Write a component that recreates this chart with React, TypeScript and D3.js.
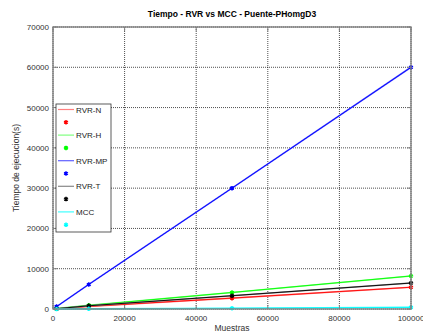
import React from "react";
import * as d3 from "d3";

// Sample sizes and execution times (s) per method
const muestras = [1000, 10000, 50000, 100000];
const rvrN = [60, 650, 2700, 5400];
const rvrH = [90, 900, 4100, 8200];
const rvrMP = [600, 6100, 30000, 60000];
const rvrT = [70, 800, 3300, 6450];
const mcc = [5, 40, 170, 400];

const xTicks = [0, 20000, 40000, 60000, 80000, 100000];
const yTicks = [0, 10000, 20000, 30000, 40000, 50000, 60000, 70000];

const series = [
  { name: "RVR-N", values: rvrN, color: "#ff0000", light: "#ff8080" },
  { name: "RVR-H", values: rvrH, color: "#00ff00", light: "#80ff80" },
  { name: "RVR-MP", values: rvrMP, color: "#0000ff", light: "#6060ff" },
  { name: "RVR-T", values: rvrT, color: "#000000", light: "#888888" },
  { name: "MCC", values: mcc, color: "#00ffff", light: "#40ffff" },
];

const W = 423;
const H = 336;
const L = 53;
const R = 411;
const T = 27;
const B = 309;
const font = "Liberation Sans, Arial, sans-serif";

export default function App() {
  const x = d3.scaleLinear().domain([0, 100000]).range([L, R]);
  const y = d3.scaleLinear().domain([0, 70000]).range([B, T]);
  const line = d3
    .line<number>()
    .x((_, i) => x(muestras[i]))
    .y((v) => y(v));
  const star = d3.symbol(d3.symbolAsterisk, 14);

  const legX = 56;
  const legY = 104;
  const step = 12.8;

  return (
    <svg
      width={W}
      height={H}
      style={{ position: "absolute", left: 0, top: 0, background: "#fff" }}
      fontFamily={font}
    >
      <rect x={0} y={0} width={W} height={H} fill="#fff" />
      {/* grid */}
      {xTicks.map((t) => (
        <line key={"gx" + t} x1={x(t)} x2={x(t)} y1={T} y2={B} stroke="#000" strokeWidth={0.7} strokeDasharray="1,1" />
      ))}
      {yTicks.map((t) => (
        <line key={"gy" + t} x1={L} x2={R} y1={y(t)} y2={y(t)} stroke="#000" strokeWidth={0.7} strokeDasharray="1,1" />
      ))}
      {/* series */}
      {series.map((s) => (
        <g key={s.name}>
          <path d={line(s.values) || ""} fill="none" stroke={s.light} strokeWidth={1.6} />
          <path d={line(s.values) || ""} fill="none" stroke={s.color} strokeWidth={0.9} />
          {s.values.map((v, i) => (
            <path
              key={i}
              d={star() || ""}
              transform={`translate(${x(muestras[i])},${y(v)})`}
              fill="none"
              stroke={s.color}
              strokeWidth={1.5}
            />
          ))}
        </g>
      ))}
      {/* axes box */}
      <rect x={L} y={T} width={R - L} height={B - T} fill="none" stroke="#808080" strokeWidth={1.4} />
      {xTicks.map((t) => (
        <g key={"tx" + t}>
          <line x1={x(t)} x2={x(t)} y1={B} y2={B - 4} stroke="#808080" />
          <line x1={x(t)} x2={x(t)} y1={T} y2={T + 4} stroke="#808080" />
          <text x={x(t)} y={B + 12} textAnchor="middle" fontSize={8} fill="#333">
            {t}
          </text>
        </g>
      ))}
      {yTicks.map((t) => (
        <g key={"ty" + t}>
          <line x1={L} x2={L + 4} y1={y(t)} y2={y(t)} stroke="#808080" />
          <line x1={R} x2={R - 4} y1={y(t)} y2={y(t)} stroke="#808080" />
          <text x={L - 4} y={y(t) + 3} textAnchor="end" fontSize={8} fill="#333">
            {t}
          </text>
        </g>
      ))}
      {/* labels */}
      <text x={(L + R) / 2} y={17} textAnchor="middle" fontSize={8.5} fontWeight="bold" fill="#000">
        Tiempo - RVR vs MCC - Puente-PHomgD3
      </text>
      <text x={(L + R) / 2} y={331} textAnchor="middle" fontSize={8.5} fill="#333">
        Muestras
      </text>
      <text
        transform={`translate(19,${(T + B) / 2}) rotate(-90)`}
        textAnchor="middle"
        fontSize={8.5}
        fill="#333"
      >
        Tiempo de ejecucion(s)
      </text>
      {/* legend */}
      <rect x={legX} y={legY} width={55} height={128} fill="#fff" stroke="#333" strokeWidth={0.8} />
      {series.map((s, i) => {
        const ly = legY + 5.5 + i * 2 * step;
        const my = ly + step;
        return (
          <g key={"leg" + s.name}>
            <line x1={legX + 2} x2={legX + 18} y1={ly} y2={ly} stroke={s.light} strokeWidth={1.2} />
            <text x={legX + 20} y={ly + 3} fontSize={8} fill="#222">
              {s.name}
            </text>
            <path d={star() || ""} transform={`translate(${legX + 10},${my})`} fill="none" stroke={s.color} strokeWidth={1.5} />
          </g>
        );
      })}
    </svg>
  );
}
